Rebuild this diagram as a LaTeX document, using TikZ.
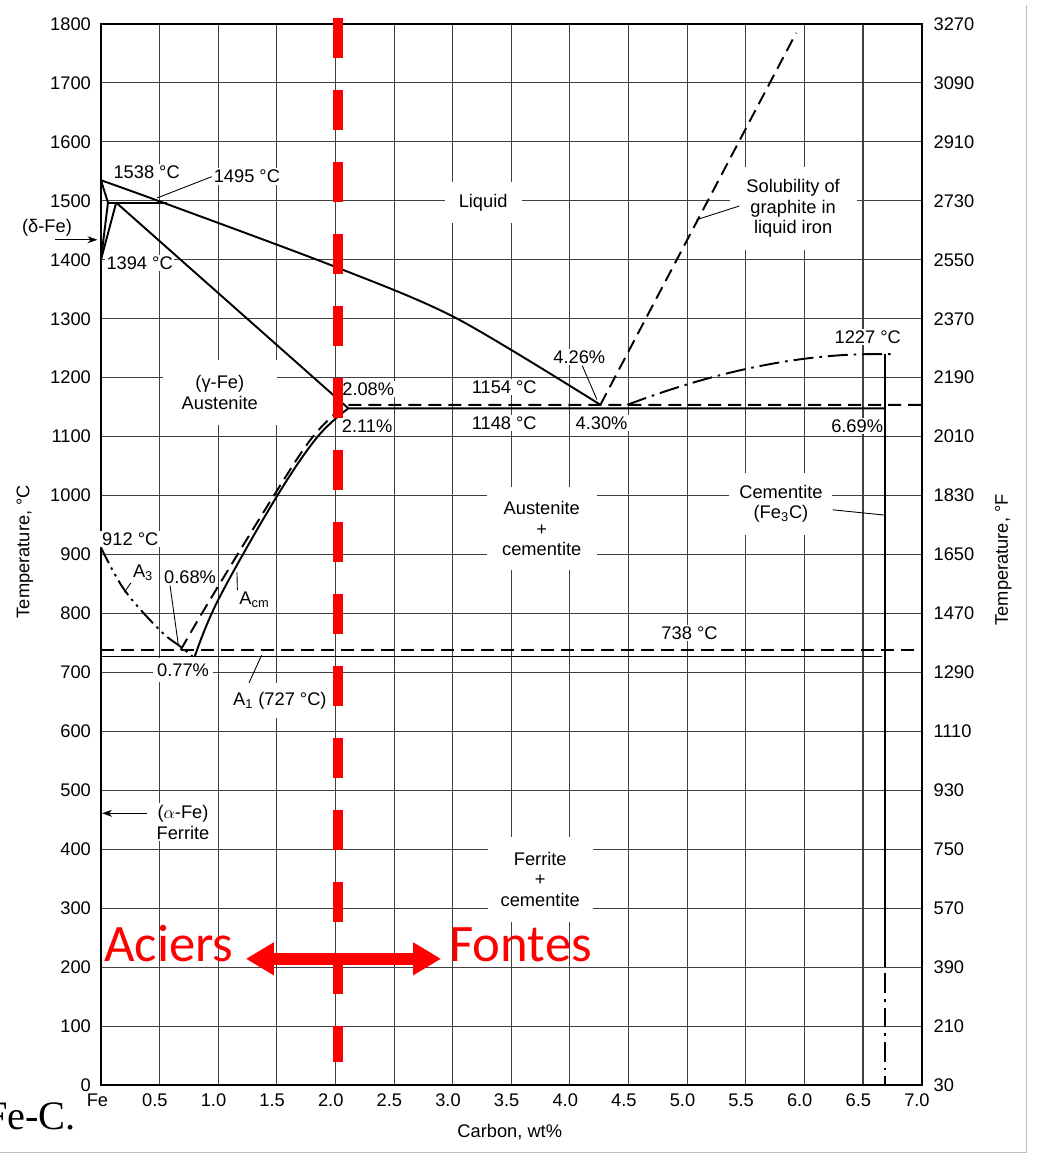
\documentclass[tikz,border=0pt]{standalone}
\usepackage{fontspec}
\setmainfont{Liberation Sans}
\newfontfamily\redfont{Carlito}
\newfontfamily\capfont{Liberation Serif}
\usetikzlibrary{arrows.meta}
\tikzstyle{gridline} = [black!75, line width=0.6pt]
\tikzstyle{frame} = [black, line width=1.1pt]
\tikzstyle{phase} = [black, line width=1.1pt]
\tikzstyle{dashphase} = [phase, dash pattern=on 2.6mm off 1.4mm]
\tikzstyle{dotphase} = [phase, dash pattern=on 4mm off 1.2mm on 0.5mm off 1.2mm]
\tikzstyle{dotdotphase} = [
    phase,
    dash pattern=on 3.5mm off 1mm on 0.5mm off 1mm on 0.5mm off 1mm
]
\tikzstyle{axislbl} = [inner sep=1pt, font=\fontsize{10.4}{12}\selectfont]
\tikzstyle{lbl} = [axislbl, fill=white]
\tikzstyle{region} = [
    lbl,
    align=center,
    font=\fontsize{10.4}{11.8}\selectfont
]
\tikzstyle{leader} = [black, line width=0.5pt]
\tikzstyle{pointer} = [leader, -{Stealth[length=2mm,width=1.4mm]}]
\tikzstyle{redtext} = [red, inner sep=0pt, font=\redfont\fontsize{30}{36}\selectfont]
\tikzstyle{redarrow} = [
    red,
    line width=6.5pt,
    {Triangle[length=5.6mm,width=6.2mm]}-{Triangle[length=5.6mm,width=6.2mm]}
]
\tikzstyle{limit} = [red, line width=6pt, dash pattern=on 8mm off 6.4mm]
\begin{document}
\begin{tikzpicture}[x=2.346cm, y=0.011788cm]

\useasboundingbox (-0.861,-130.6) rectangle (8.039,1840.8);

\foreach \c in {0.5,1,...,6.5}
    \draw[gridline] (\c,0) -- (\c,1800);
\foreach \t in {100,200,...,1700}
    \draw[gridline] (0,\t) -- (7,\t);
\draw[frame] (0,0) rectangle (7,1800);

\foreach \t in {0,100,...,1800} {
    \pgfmathtruncatemacro\f{30+1.8*\t}
    \node[axislbl, anchor=east] at (-0.068,\t) {\t};
    \node[axislbl, anchor=west] at (7.084,\t) {\f};
}
\node[axislbl] at (-0.03,-25.4) {Fe};
\foreach \c in {0.5,1.0,1.5,2.0,2.5,3.0,3.5,4.0,4.5,5.0,5.5,6.0,6.5,7.0}
    \node[axislbl] at (\c-0.04,-25.4) {\c};

\node (ytitle) [axislbl, rotate=90] at (-0.648,905) {Temperature, °C};
\node (ftitle) [axislbl, rotate=90] at (7.698,891) {Temperature, °F};
\node (xtitle) [axislbl] at (3.487,-80) {Carbon, wt\%};

\node (liq) [region, minimum width=1.54cm, minimum height=0.82cm]
    at (3.26,1497) {Liquid};
\node (sol) [region, minimum width=2.54cm, minimum height=1.66cm]
    at (5.904,1487) {Solubility of\\graphite in\\liquid iron};
\node (gam) [region, minimum width=2.28cm, minimum height=1.3cm]
    at (1.014,1175) {(γ-Fe)\\Austenite};
\node (aus) [region, minimum width=2.2cm, minimum height=1.66cm]
    at (3.76,944) {Austenite\\+\\cementite};
\node (cem) [region, minimum width=2.06cm, minimum height=1.24cm]
    at (5.80,986) {Cementite\\(Fe\textsubscript{3}C)};
\node (fer) [region, minimum width=2.1cm, minimum height=1.7cm]
    at (3.747,349) {Ferrite\\+\\cementite};
\node (afe) [region] at (0.70,446) {($\alpha$-Fe)\\Ferrite};

\node (l1538) [lbl] at (0.39,1549) {1538 °C};
\node (l1495) [lbl] at (1.245,1541) {1495 °C};
\node (dfe) [lbl] at (-0.46,1454) {(δ-Fe)};
\node (l1394) [lbl] at (0.33,1395) {1394 °C};
\node (l208) [lbl] at (2.28,1181) {2.08\%};
\node (l211) [lbl] at (2.27,1118) {2.11\%};
\node (l1154) [lbl] at (3.44,1184) {1154 °C};
\node (l1148) [lbl] at (3.44,1123) {1148 °C};
\node (l426) [lbl] at (4.08,1235) {4.26\%};
\node (l430) [lbl] at (4.27,1123) {4.30\%};
\node (l1227) [lbl] at (6.54,1269) {1227 °C};
\node (l669) [lbl] at (6.45,1118) {6.69\%};
\node (l912) [lbl] at (0.25,926) {912 °C};
\node (a3) [lbl] at (0.36,869) {A\textsubscript{3}};
\node (l068) [lbl] at (0.76,862) {0.68\%};
\node (acm) [lbl] at (1.31,823) {A\textsubscript{cm}};
\node (l077) [lbl, minimum width=1.2cm, minimum height=0.48cm]
    at (0.70,704) {0.77\%};
\node (a1) [lbl, minimum width=1.92cm, minimum height=0.7cm]
    at (1.526,652) {A\textsubscript{1} (727 °C)};
\node (l738) [lbl] at (5.02,767) {738 °C};

\draw[phase] (0,1535) -- (0.06,1497) -- (0,1400);
\draw[phase] (0.13,1497) -- (0,1400);
\draw[phase] (0.06,1497) -- (0.56,1497);
\draw[phase] plot[smooth, tension=0.5] coordinates
    {(0,1535) (0.53,1497) (2.0,1388) (3.03,1301) (4.26,1154)};
\draw[phase] (0.13,1497) -- (2.11,1148);
\draw[phase] plot[smooth, tension=0.6] coordinates
    {(0.80,727) (1.0,823) (1.48,992) (1.84,1098) (2.11,1148)}
    -- (6.69,1148);
\draw[dashphase] plot[smooth, tension=0.6] coordinates
    {(0.68,738) (0.93,823) (1.45,992) (1.80,1098) (2.08,1154)}
    -- (7,1154);
\draw[dashphase] (4.26,1154) -- (5.93,1785);
\draw[dotphase] (4.49,1154) .. controls (5.3,1215) and (6.0,1240) .. (6.6,1240)
    -- (6.78,1240);
\draw[phase] (6.69,1240) -- (6.69,200);
\draw[dotphase] (6.69,190) -- (6.69,0);
\draw[dotdotphase] plot[smooth, tension=0.6] coordinates
    {(0,912) (0.2,840) (0.5,772) (0.67,745) (0.78,728)};
\draw[phase] (0,727) -- (6.66,727);
\draw[dashphase] (0,738) -- (7,738);

\coordinate (peri) at (0.48,1505);
\coordinate (eut) at (4.23,1163);
\coordinate (graph) at (5.08,1468);
\coordinate (cemline) at (6.68,967);
\coordinate (a3pt) at (0.2,836);
\coordinate (p068) at (0.66,747);
\coordinate (acmpt) at (1.16,870);
\coordinate (a1pt) at (1.37,729);
\coordinate (dfetail) at (-0.39,1434);
\coordinate (dfeaxis) at (-0.03,1434);
\coordinate (afetail) at (0.39,461);
\coordinate (afeaxis) at (0.01,461);

\draw[leader] (l1495.west) -- (peri);
\draw[leader] ([xshift=0.6mm]l426.south) -- (eut);
\draw[leader] ([xshift=2mm,yshift=0.5mm]sol.west) -- (graph);
\draw[leader] ([yshift=-1.2mm]cem.east) -- (cemline);
\draw[leader] (a3.south west) -- (a3pt);
\draw[leader] ([xshift=1.6mm]l068.south west) -- (p068);
\draw[leader] (acm.north west) -- (acmpt);
\draw[leader] ([xshift=3.6mm]a1.north west) -- (a1pt);
\draw[pointer] (dfetail) -- (dfeaxis);
\draw[pointer] (afetail) -- (afeaxis);

\node (cap) [anchor=base east, inner sep=0pt, font=\capfont\fontsize{23}{28}\selectfont]
    at (-0.21,-76) {Fe-C.};
\draw[black!25, line width=0.6pt] (-0.861,-113.7) -- (7.894,-113.7) -- (7.894,1832);

\node (aciers) [redtext, anchor=base] at (0.58,209) {Aciers};
\node (fontes) [redtext, anchor=base] at (3.58,209) {Fontes};
\draw[redarrow] ([xshift=2.4mm,yshift=0.6mm]aciers.base east)
    -- ([xshift=-1.6mm,yshift=0.6mm]fontes.base west);
\draw[limit] (2.02,1810) -- (2.02,39);

\end{tikzpicture}
\end{document}
